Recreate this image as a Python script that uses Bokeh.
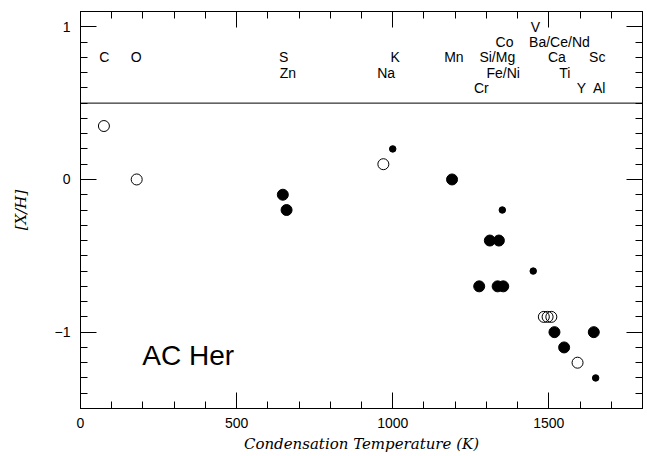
from bokeh.plotting import figure
from bokeh.models import Span, LinearAxis, SingleIntervalTicker, Range1d, CustomJSTickFormatter
from bokeh.embed import file_html
from bokeh.resources import INLINE
from bokeh.core.properties import value

# Large filled circles
big_x = [648, 660, 1190, 1311, 1340, 1277, 1336, 1354, 1518, 1549, 1644]
big_y = [-0.1, -0.2, 0.0, -0.4, -0.4, -0.7, -0.7, -0.7, -1.0, -1.1, -1.0]
# Small filled circles
small_x = [1000, 1351, 1450, 1650]
small_y = [0.2, -0.2, -0.6, -1.3]
# Open circles
open_x = [75, 180, 970, 1484, 1496, 1508, 1592]
open_y = [0.35, 0.0, 0.1, -0.9, -0.9, -0.9, -1.2]

# Element labels
lab_names = ["C", "O", "S", "Zn", "K", "Na", "Mn", "Co", "Si/Mg", "Fe/Ni", "Cr",
             "V", "Ba/Ce/Nd", "Ca", "Ti", "Sc", "Y", "Al"]
lab_x = [76, 178, 651, 664, 1008, 979, 1196, 1358, 1335, 1354, 1284,
         1457, 1534, 1526, 1551, 1655, 1604, 1661]
lab_y = [0.8, 0.8, 0.8, 0.7, 0.8, 0.7, 0.8, 0.9, 0.8, 0.7, 0.6,
         1.0, 0.9, 0.8, 0.7, 0.8, 0.6, 0.6]

divider_y = 0.5
star_name = ["AC Her"]
star_x = [198]
star_y = [-1.15]

x_min, x_max = 0, 1800
y_min, y_max = -1.5, 1.1

p = figure(width=647, height=456, output_backend="svg", toolbar_location=None,
           x_range=Range1d(x_min, x_max), y_range=Range1d(y_min, y_max),
           min_border_left=80, min_border_right=5, min_border_top=11,
           min_border_bottom=48,
           x_axis_label="Condensation Temperature (K)", y_axis_label="[X/H]")
p.grid.visible = False
p.outline_line_color = "black"
p.outline_line_width = 1
p.background_fill_color = "white"
p.border_fill_color = "white"

bottom = p.below[0]
left = p.left[0]
bottom.ticker = SingleIntervalTicker(interval=500, num_minor_ticks=5)
left.ticker = SingleIntervalTicker(interval=1, num_minor_ticks=10)

blank = CustomJSTickFormatter(code="return '';")
top = LinearAxis(ticker=SingleIntervalTicker(interval=500, num_minor_ticks=5),
                 formatter=blank)
right = LinearAxis(ticker=SingleIntervalTicker(interval=1, num_minor_ticks=10),
                   formatter=blank)
p.add_layout(top, "above")
p.add_layout(right, "right")

for ax in [bottom, left, top, right]:
    ax.major_tick_in = 16
    ax.major_tick_out = 0
    ax.minor_tick_in = 7
    ax.minor_tick_out = 0
    ax.axis_line_color = "black"
    ax.major_tick_line_color = "black"
    ax.minor_tick_line_color = "black"
    ax.major_label_text_font = "Liberation Sans"
    ax.major_label_text_font_size = "14px"
    ax.major_label_text_color = "black"

for ax in [top, right]:
    ax.major_label_standoff = 0

bottom.major_label_standoff = 9
left.major_label_standoff = 10
for ax in [bottom, left]:
    ax.axis_label_text_font = "DejaVu Serif"
    ax.axis_label_text_font_style = "italic"
    ax.axis_label_text_font_size = "15px"
    ax.axis_label_text_color = "black"
bottom.axis_label_standoff = 4
left.axis_label_standoff = 22

p.add_layout(Span(location=divider_y, dimension="width", line_color="black", line_width=1))

p.scatter(big_x, big_y, size=11, marker="circle", fill_color="black", line_color="black")
p.scatter(small_x, small_y, size=6.5, marker="circle", fill_color="black", line_color="black")
p.scatter(open_x, open_y, size=11, marker="circle", fill_color=None, line_color="black",
          line_width=1)

p.text(x=lab_x, y=lab_y, text=lab_names, text_align="center", text_baseline="middle",
       text_font=value("Liberation Sans"), text_font_size="14px", text_color="black")
p.text(x=star_x, y=star_y, text=star_name, text_align="left", text_baseline="alphabetic",
       text_font=value("Liberation Sans"), text_font_size="28px", text_color="black")

open("out.html", "w").write(file_html(p, INLINE))
